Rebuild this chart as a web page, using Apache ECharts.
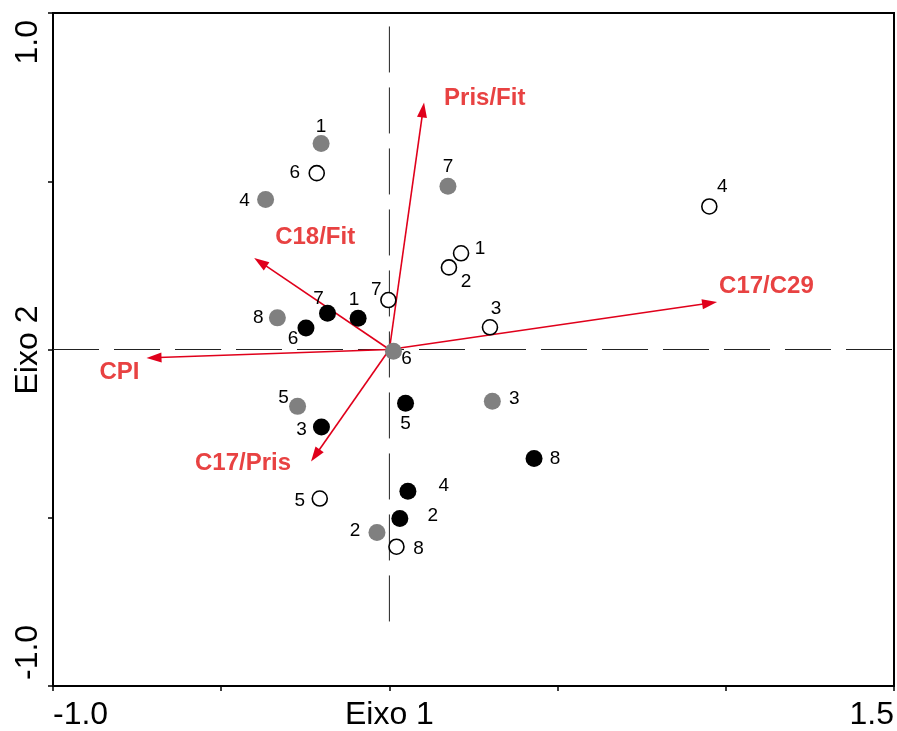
<!DOCTYPE html>
<html>
<head>
<meta charset="utf-8">
<script src="https://cdn.jsdelivr.net/npm/echarts@6/dist/echarts.min.js"></script>
<style>
  html, body { margin: 0; padding: 0; background: #fff; }
  #chart { width: 897px; height: 731px; }
</style>
</head>
<body>
<div id="chart"></div>
<script>
// Sample scores on ordination axes 1 and 2, three groups of samples
const greyIds = ['1', '4', '8', '6', '7', '5', '2', '3'];
const greyScores = [
  [-0.203, 0.612], [-0.368, 0.446], [-0.333, 0.094], [0.012, -0.005],
  [0.174, 0.485], [-0.273, -0.169], [-0.037, -0.544], [0.306, -0.154]
];
const blackIds = ['7', '1', '6', '3', '5', '4', '2', '8'];
const blackScores = [
  [-0.184, 0.108], [-0.093, 0.093], [-0.248, 0.064], [-0.202, -0.230],
  [0.048, -0.160], [0.055, -0.421], [0.031, -0.502], [0.430, -0.324]
];
const openIds = ['6', '7', '1', '2', '3', '4', '5', '8'];
const openScores = [
  [-0.216, 0.524], [-0.003, 0.147], [0.213, 0.286], [0.177, 0.244],
  [0.299, 0.066], [0.951, 0.425], [-0.207, -0.443], [0.021, -0.586]
];

// Variable vectors (arrow tips)
const varNames = ['Pris/Fit', 'C18/Fit', 'C17/C29', 'CPI', 'C17/Pris'];
const varTips = [
  [0.103, 0.734], [-0.402, 0.272], [0.974, 0.141], [-0.722, -0.025], [-0.233, -0.333]
];

// Axis ticks
const xTicks = { min: -1.0, max: 1.5, step: 0.5 };
const yTicks = { min: -1.0, max: 1.0, step: 0.5 };
const xTitle = 'Eixo 1';
const yTitle = 'Eixo 2';

// Reference lines through the origin
const hLine = [[-1.0, 0], [1.5, 0]];
const vLine = [[0, 0.96], [0, -0.82]];

// Label placement (pixel offsets of the label centre from each point)
const greyLabelOffsets = [[0, -17], [-21, 1], [-19, 0], [13, 8], [0, -20], [-14, -9], [-22, -2], [22, -3]];
const blackLabelOffsets = [[-9, -14], [-4, -18], [-13, 11], [-20, 3], [0, 20], [36, -5], [33, -3], [21, 0]];
const openLabelOffsets = [[-22, 0], [-12, -10], [19, -4], [17, 14], [6, -19], [13, -20], [-20, 2], [22, 2]];
const varLabelOffsets = [[20, -4], [21, -21], [2, -16], [-7, 14], [-20, 2]];
const varLabelAlign = ['left', 'left', 'left', 'right', 'right'];

const FONT = "'Liberation Sans', Arial, Helvetica, sans-serif";
const ARROW_COLOR = '#e0001b';
const VAR_TEXT_COLOR = '#e84242';

function pointData(ids, scores, offsets) {
  return scores.map((s, i) => ({
    value: s,
    name: ids[i],
    label: { offset: offsets[i] }
  }));
}

function scatterSeries(ids, scores, offsets, itemStyle, size) {
  return {
    type: 'scatter',
    symbol: 'circle',
    symbolSize: size,
    itemStyle: Object.assign({ opacity: 1 }, itemStyle),
    data: pointData(ids, scores, offsets),
    label: {
      show: true,
      position: 'inside',
      align: 'center',
      verticalAlign: 'middle',
      formatter: p => p.name,
      color: '#000',
      opacity: 1,
      fontSize: 19,
      fontFamily: FONT
    },
    emphasis: { disabled: true },
    z: 5
  };
}

function dashedLine(data) {
  return {
    type: 'line',
    data: data,
    symbol: 'none',
    silent: true,
    lineStyle: { color: '#222', width: 1, type: [46, 15] },
    z: 1
  };
}

const arrowSeries = {
  type: 'custom',
  silent: true,
  z: 3,
  data: varTips.map((t, i) => ({ value: [t[0], t[1], i], name: varNames[i] })),
  renderItem: function (params, api) {
    const i = api.value(2);
    const p0 = api.coord([0, 0]);
    const p1 = api.coord([api.value(0), api.value(1)]);
    const dx = p1[0] - p0[0], dy = p1[1] - p0[1];
    const len = Math.hypot(dx, dy);
    const ux = dx / len, uy = dy / len;
    const headLen = 15, headHalf = 5;
    const bx = p1[0] - ux * headLen, by = p1[1] - uy * headLen;
    const nx = -uy, ny = ux;
    const off = varLabelOffsets[i];
    return {
      type: 'group',
      children: [
        {
          type: 'line',
          shape: { x1: p0[0], y1: p0[1], x2: bx + ux * 3, y2: by + uy * 3 },
          style: { stroke: ARROW_COLOR, lineWidth: 1.6 }
        },
        {
          type: 'polygon',
          shape: { points: [[p1[0], p1[1]], [bx + nx * headHalf, by + ny * headHalf], [bx - nx * headHalf, by - ny * headHalf]] },
          style: { fill: ARROW_COLOR }
        },
        {
          type: 'text',
          x: p1[0] + off[0],
          y: p1[1] + off[1],
          style: {
            text: varNames[i],
            fill: VAR_TEXT_COLOR,
            fontSize: 24,
            fontWeight: 'bold',
            fontFamily: FONT,
            align: varLabelAlign[i],
            verticalAlign: 'middle'
          }
        }
      ]
    };
  }
};

const chart = echarts.init(document.getElementById('chart'), null, { renderer: 'canvas' });
chart.setOption({
  animation: false,
  backgroundColor: '#fff',
  grid: {
    left: 53, right: 2, top: 13, bottom: 43,
    show: true, borderColor: '#000', borderWidth: 2, backgroundColor: 'transparent'
  },
  xAxis: {
    type: 'value',
    min: xTicks.min, max: xTicks.max, interval: xTicks.step,
    splitLine: { show: false },
    axisLine: { show: true, onZero: false, lineStyle: { color: '#000', width: 2 } },
    axisTick: { show: true, length: 5, lineStyle: { color: '#000', width: 1.5 } },
    axisLabel: {
      margin: 13,
      color: '#000',
      fontSize: 32,
      fontFamily: FONT,
      alignMinLabel: 'left',
      alignMaxLabel: 'right',
      hideOverlap: false,
      formatter: v => (Math.abs(v) < 1e-9 ? xTitle : (Math.abs(v - xTicks.min) < 1e-9 || Math.abs(v - xTicks.max) < 1e-9) ? v.toFixed(1) : '')
    }
  },
  yAxis: {
    type: 'value',
    min: yTicks.min, max: yTicks.max, interval: yTicks.step,
    splitLine: { show: false },
    axisLine: { show: true, onZero: false, lineStyle: { color: '#000', width: 2 } },
    axisTick: { show: true, length: 5, lineStyle: { color: '#000', width: 1.5 } },
    axisLabel: {
      margin: 9,
      rotate: 90,
      color: '#000',
      fontSize: 32,
      fontFamily: FONT,
      padding: [0, 7, 0, 6],
      alignMinLabel: 'left',
      alignMaxLabel: 'right',
      hideOverlap: false,
      formatter: v => (Math.abs(v) < 1e-9 ? yTitle : (Math.abs(v - yTicks.min) < 1e-9 || Math.abs(v - yTicks.max) < 1e-9) ? v.toFixed(1) : '')
    }
  },
  series: [
    dashedLine(hLine),
    dashedLine(vLine),
    arrowSeries,
    scatterSeries(greyIds, greyScores, greyLabelOffsets, { color: '#808080' }, 17),
    scatterSeries(blackIds, blackScores, blackLabelOffsets, { color: '#000' }, 17),
    scatterSeries(openIds, openScores, openLabelOffsets, { color: '#fff', borderColor: '#000', borderWidth: 1.6 }, 15)
  ]
});
</script>
</body>
</html>
